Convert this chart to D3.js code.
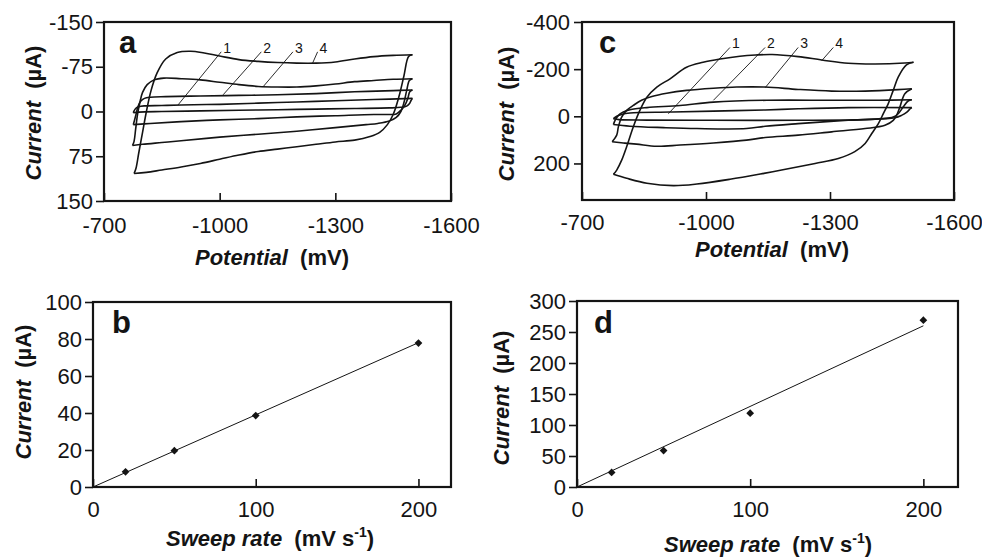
<!DOCTYPE html>
<html>
<head>
<meta charset="utf-8">
<script src="https://cdn.jsdelivr.net/npm/d3@7"></script>
<style>
  body { margin: 0; background: #fff; }
  svg { display: block; font-family: 'Liberation Sans', Arial, Helvetica, sans-serif; }
</style>
</head>
<body>
<svg width="982" height="558"></svg>
<script>
// ---- data ----
// panel a: cyclic voltammograms, [potential mV, current uA], loop starts at the left corner
const cvA1 = [[-776,2],[-778,-1],[-782,-5],[-790,-8],[-805,-9.5],[-850,-10],[-900,-11],[-1000,-12],[-1100,-14],[-1200,-16],[-1300,-18],[-1400,-20],[-1500,-22],
  [-1496,-18],[-1492,-13],[-1485,-9],[-1470,-7],[-1440,-6],[-1350,-5],[-1250,-4],[-1150,-3],[-1050,-2],[-950,-1],[-850,0],[-790,1],[-776,2]];
const cvA2 = [[-776,22],[-779,15],[-783,5],[-788,-8],[-795,-17],[-805,-22],[-820,-24],[-860,-25],[-950,-26],[-1050,-27],[-1150,-28],[-1250,-30],[-1350,-33],[-1450,-35],[-1500,-36],
  [-1493,-33],[-1488,-22],[-1480,-10],[-1470,-2],[-1458,4],[-1440,5],[-1400,5],[-1300,7],[-1200,9],[-1100,12],[-1000,14],[-900,17],[-820,20],[-776,22]];
const cvA3 = [[-774,57],[-778,50],[-782,30],[-787,5],[-793,-15],[-800,-32],[-812,-45],[-830,-53],[-855,-56],[-900,-55],[-950,-53],[-1000,-49],[-1050,-45],[-1100,-42],[-1150,-41],[-1200,-41],[-1250,-43],[-1300,-46],[-1350,-50],[-1400,-52],[-1450,-54],[-1500,-55],
  [-1492,-52],[-1485,-35],[-1478,-15],[-1470,0],[-1458,10],[-1440,16],[-1410,20],[-1380,22],[-1300,27],[-1200,33],[-1100,38],[-1000,43],[-900,49],[-850,52],[-800,55],[-774,57]];
const cvA4 = [[-778,104],[-783,95],[-790,70],[-800,35],[-810,0],[-822,-35],[-838,-65],[-860,-88],[-890,-99],[-925,-101],[-960,-98],[-1000,-93],[-1050,-87],[-1100,-84],[-1150,-82],[-1200,-81],[-1250,-81],[-1300,-83],[-1350,-88],[-1400,-92],[-1450,-94],[-1500,-95],
  [-1490,-92],[-1478,-60],[-1465,-25],[-1450,5],[-1435,22],[-1415,35],[-1390,42],[-1350,48],[-1300,51],[-1250,55],[-1200,59],[-1150,63],[-1100,67],[-1050,73],[-1000,80],[-950,87],[-900,93],[-850,98],[-810,102],[-778,104]];

// panel c
const cvC1 = [[-776,10],[-784,0],[-796,-8],[-816,-14],[-913,-18],[-1018,-22],[-1143,-27],[-1223,-32],[-1344,-37],[-1498,-37],
  [-1494,-32],[-1486,-18],[-1473,-4],[-1457,6],[-1385,14],[-1223,17],[-1018,17],[-857,16],[-790,14],[-776,10]];
const cvC2 = [[-776,35],[-780,17],[-788,-4],[-800,-18],[-816,-28],[-857,-37],[-937,-46],[-1018,-60],[-1147,-68],[-1304,-68],[-1420,-68],[-1498,-70],
  [-1489,-65],[-1477,-39],[-1465,-11],[-1453,3],[-1425,10],[-1344,17],[-1223,31],[-1143,42],[-1098,52],[-978,52],[-897,48],[-816,42],[-776,35]];
const cvC3 = [[-773,108],[-784,80],[-788,45],[-796,3],[-808,-25],[-824,-46],[-844,-68],[-869,-84],[-905,-98],[-953,-110],[-1018,-119],[-1074,-124],[-1143,-124],[-1223,-114],[-1304,-107],[-1385,-107],[-1465,-113],[-1498,-117],
  [-1481,-96],[-1469,-39],[-1461,-4],[-1453,17],[-1433,38],[-1385,52],[-1304,66],[-1223,80],[-1143,90],[-1098,101],[-1018,113],[-937,122],[-881,127],[-832,118],[-800,113],[-773,108]];
const cvC4 = [[-776,246],[-784,228],[-796,186],[-808,129],[-824,45],[-840,-25],[-857,-81],[-881,-124],[-913,-159],[-953,-208],[-993,-229],[-1034,-243],[-1082,-255],[-1120,-260],[-1160,-262],[-1223,-253],[-1280,-239],[-1344,-225],[-1409,-222],[-1481,-226],[-1502,-229],
  [-1485,-218],[-1465,-166],[-1453,-110],[-1441,-54],[-1429,-11],[-1417,31],[-1401,73],[-1385,115],[-1360,150],[-1320,179],[-1264,200],[-1183,228],[-1140,242],[-1058,267],[-978,287],[-921,294],[-857,284],[-808,263],[-776,246]];

// curve number labels: [label, point on curve, top of leader line]
const labelsA = [["1", [-892,-11], [-1004,-100]], ["2", [-1009,-28], [-1108,-100]], ["3", [-1112,-41], [-1190,-100]], ["4", [-1241,-81], [-1254,-100]]];
const labelsC = [["1", [-909,-11], [-1058,-292]], ["2", [-1018,-68], [-1143,-292]], ["3", [-1143,-121], [-1223,-292]], ["4", [-1280,-236], [-1308,-292]]];

// panels b, d: peak current vs sweep rate
const sweepRates = [20, 50, 100, 200];
const currentB = [8.2, 19.6, 38.6, 77.8];
const currentD = [23.5, 58.8, 119, 269];
const fitB = [[0, 0], [200, 78]];
const fitD = [[0, 0], [200, 260]];

const potTicks = [-700, -1000, -1300, -1600];
const rateTicks = [0, 100, 200];

// ---- drawing ----
const svg = d3.select("svg");
const ink = "#141414";

function panel(cfg) {
  const x = d3.scaleLinear().domain(cfg.xDomain).range(cfg.xRange);
  const y = d3.scaleLinear().domain(cfg.yDomain).range(cfg.yRange);
  const g = svg.append("g");
  const x0 = cfg.xRange[0], x1 = cfg.xRange[1];
  const yTop = cfg.yRange[1], yBot = cfg.yRange[0];

  // y axis, ticks outside
  g.append("g").attr("transform", `translate(${x0},0)`)
    .call(d3.axisLeft(y).tickValues(cfg.yTicks).tickFormat(d => String(d)).tickSize(8).tickPadding(cfg.yPad))
    .attr("font-family", null).attr("font-size", 22)
    .call(a => a.select(".domain").remove())
    .call(a => a.selectAll("line").attr("stroke", ink).attr("stroke-width", 1.6))
    .call(a => a.selectAll("text").attr("fill", ink));

  // x axis, ticks pointing into the plot
  g.append("g").attr("transform", `translate(0,${yBot})`)
    .call(d3.axisBottom(x).tickValues(cfg.xTicks).tickFormat(d => String(d)).tickSizeInner(-8).tickSizeOuter(0))
    .attr("font-family", null).attr("font-size", 22)
    .call(a => a.select(".domain").remove())
    .call(a => a.selectAll("line").attr("stroke", ink).attr("stroke-width", 1.6))
    .call(a => a.selectAll("text").attr("fill", ink).attr("dy", null).attr("y", cfg.xLabelBase - yBot));

  // frame
  g.append("rect")
    .attr("x", x0).attr("y", yTop).attr("width", x1 - x0).attr("height", yBot - yTop)
    .attr("fill", "none").attr("stroke", ink).attr("stroke-width", 2.2);

  // panel letter
  g.append("text").attr("x", cfg.letterPos[0]).attr("y", cfg.letterPos[1])
    .attr("font-size", 31).attr("font-weight", "bold").attr("fill", ink).text(cfg.letter);

  // y title
  const yt = g.append("text")
    .attr("transform", `translate(${cfg.yTitlePos[0]},${cfg.yTitlePos[1]}) rotate(-90)`)
    .attr("text-anchor", "middle").attr("font-size", 22).attr("font-weight", "bold").attr("fill", ink);
  yt.append("tspan").attr("font-style", "italic").text("Current");
  yt.append("tspan").text("\u00a0\u00a0(\u00b5A)");

  // x title
  const xt = g.append("text").attr("x", cfg.xTitlePos[0]).attr("y", cfg.xTitlePos[1])
    .attr("text-anchor", "middle").attr("font-size", 22).attr("font-weight", "bold").attr("fill", ink);
  xt.append("tspan").attr("font-style", "italic").text(cfg.xTitle[0]);
  xt.append("tspan").text("\u00a0\u00a0" + cfg.xTitle[1]);
  if (cfg.xTitle[2]) {
    xt.append("tspan").attr("font-size", 14).attr("dy", -9).text(cfg.xTitle[2]);
    xt.append("tspan").attr("dy", 9).text(cfg.xTitle[3]);
  }
  return {g, x, y};
}

function drawLoops(p, loops) {
  const line = d3.line().x(d => p.x(d[0])).y(d => p.y(d[1])).curve(d3.curveCatmullRom.alpha(0.5));
  loops.forEach(pts => {
    // split each loop at its turning point (most negative potential)
    const turn = d3.minIndex(pts, d => d[0]);
    [pts.slice(0, turn + 1), pts.slice(turn)].forEach(branch => {
      p.g.append("path").attr("d", line(branch))
        .attr("fill", "none").attr("stroke", ink).attr("stroke-width", 1.6).attr("stroke-linejoin", "round");
    });
  });
}

function drawLabels(p, labels) {
  labels.forEach(([t, a, b]) => {
    p.g.append("line")
      .attr("x1", p.x(a[0])).attr("y1", p.y(a[1])).attr("x2", p.x(b[0])).attr("y2", p.y(b[1]))
      .attr("stroke", ink).attr("stroke-width", 0.9);
    p.g.append("text").attr("x", p.x(b[0]) + 2).attr("y", p.y(b[1]) + 1)
      .attr("font-size", 14).attr("fill", ink).text(t);
  });
}

function drawRate(p, rates, cur, fit) {
  p.g.append("line")
    .attr("x1", p.x(fit[0][0])).attr("y1", p.y(fit[0][1]))
    .attr("x2", p.x(fit[1][0])).attr("y2", p.y(fit[1][1]))
    .attr("stroke", ink).attr("stroke-width", 1);
  p.g.selectAll("path.pt").data(rates).join("path").attr("class", "pt")
    .attr("d", d3.symbol(d3.symbolSquare, 30))
    .attr("transform", (d, i) => `translate(${p.x(d)},${p.y(cur[i])}) rotate(45)`)
    .attr("fill", ink);
}

// a  (current axis reversed: cathodic up)
const pA = panel({
  xDomain: [-700, -1600], xRange: [104, 451], yDomain: [150, -150], yRange: [201, 22],
  xTicks: potTicks, yTicks: [-150, -75, 0, 75, 150], yPad: 3, xLabelBase: 233,
  letter: "a", letterPos: [119, 53], yTitlePos: [41, 113], xTitlePos: [272, 265],
  xTitle: ["Potential", "(mV)"]
});
drawLoops(pA, [cvA1, cvA2, cvA3, cvA4]);
drawLabels(pA, labelsA);

// c
const pC = panel({
  xDomain: [-700, -1600], xRange: [582, 954], yDomain: [355, -400], yRange: [200, 22],
  xTicks: potTicks, yTicks: [-400, -200, 0, 200], yPad: 4, xLabelBase: 230,
  letter: "c", letterPos: [599, 53], yTitlePos: [514, 114], xTitlePos: [772, 257],
  xTitle: ["Potential", "(mV)"]
});
drawLoops(pC, [cvC1, cvC2, cvC3, cvC4]);
drawLabels(pC, labelsC);

// b
const pB = panel({
  xDomain: [0, 220], xRange: [93, 451], yDomain: [0, 100], yRange: [487, 302],
  xTicks: rateTicks, yTicks: [0, 20, 40, 60, 80, 100], yPad: 3, xLabelBase: 517,
  letter: "b", letterPos: [112, 333], yTitlePos: [31, 392], xTitlePos: [270, 546],
  xTitle: ["Sweep rate", "(mV s", "-1", ")"]
});
drawRate(pB, sweepRates, currentB, fitB);

// d
const pD = panel({
  xDomain: [0, 220], xRange: [577, 958], yDomain: [0, 300], yRange: [487, 301],
  xTicks: rateTicks, yTicks: [0, 50, 100, 150, 200, 250, 300], yPad: 3, xLabelBase: 517,
  letter: "d", letterPos: [594, 333], yTitlePos: [509, 398], xTitlePos: [768, 552],
  xTitle: ["Sweep rate", "(mV s", "-1", ")"]
});
drawRate(pD, sweepRates, currentD, fitD);
</script>
</body>
</html>
